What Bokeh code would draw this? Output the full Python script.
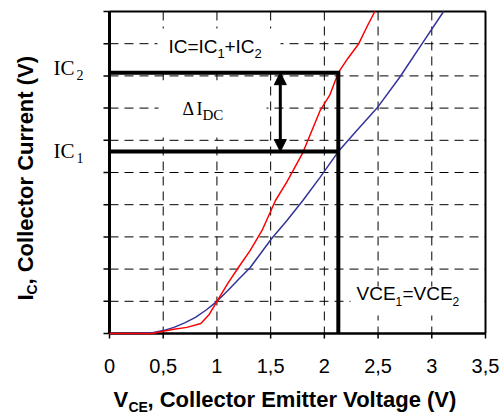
import math
from bokeh.plotting import figure
from bokeh.models import Range1d, Label, Arrow, NormalHead
from bokeh.core.properties import value
from bokeh.embed import file_html
from bokeh.resources import INLINE

# ---- data ----
vce_red = [0.0, 0.2, 0.4, 0.5, 0.6, 0.72, 0.85, 0.93, 1.0, 1.1, 1.2, 1.31, 1.42, 1.545, 1.65, 1.8, 1.96, 2.05, 2.13, 2.22, 2.32, 2.4, 2.47]
ic_red = [0.0, 0.0, 0.0, 0.07, 0.13, 0.19, 0.31, 0.6, 1.0, 1.55, 2.05, 2.58, 3.2, 4.13, 4.7, 5.62, 6.92, 7.4, 8.1, 8.55, 9.0, 9.55, 10.0]

vce_blue = [0.0, 0.2, 0.4, 0.5, 0.6, 0.7, 0.8, 0.9, 1.0, 1.1, 1.2, 1.31, 1.51, 1.65, 1.8, 1.96, 2.13, 2.3, 2.49, 2.7, 2.91, 3.11]
ic_blue = [0.0, 0.0, 0.02, 0.09, 0.19, 0.33, 0.5, 0.73, 1.0, 1.33, 1.68, 2.05, 2.95, 3.5, 4.13, 4.85, 5.65, 6.3, 7.0, 7.95, 9.0, 10.0]

x_ticks = [0, 0.5, 1, 1.5, 2, 2.5, 3, 3.5]
x_tick_labels = ["0", "0,5", "1", "1,5", "2", "2,5", "3", "3,5"]
y_ticks = [0, 1, 2, 3, 4, 5, 6, 7, 8, 9, 10]

x_min, x_max = 0.0, 3.5
y_min, y_max = 0.0, 10.0

ic1_level = 5.65
ic2_level = 8.1
vce_point = 2.13
delta_x = 1.59

# ---- geometry of the plot box on the canvas (pixels) ----
W, H = 504, 415
BOX_L, BOX_R, BOX_T, BOX_B = 109, 485, 11, 333
xpp = (x_max - x_min) / (BOX_R - BOX_L)
ypp = (y_max - y_min) / (BOX_B - BOX_T)

x_range = Range1d(x_min - BOX_L * xpp, x_max + (W - BOX_R) * xpp)
y_range = Range1d(y_min - (H - BOX_B) * ypp, y_max + BOX_T * ypp)

p = figure(width=W, height=H, x_range=x_range, y_range=y_range,
           output_backend="svg", toolbar_location=None,
           x_axis_location=None, y_axis_location=None, min_border=0)
p.outline_line_color = None
p.background_fill_color = "white"
p.border_fill_color = "white"
for g in p.grid:
    g.visible = False

TEXT_SHIFT = 0.36  # empirical baseline correction, in em


def dx(X):
    return x_range.start + X * xpp


def dy(Y):
    return y_range.end - Y * ypp


def px_w(n):
    return n * xpp


def px_h(n):
    return n * ypp


# ---- grid (dashed) ----
p.segment(x0=x_ticks, y0=[y_max] * len(x_ticks), x1=x_ticks, y1=[y_min] * len(x_ticks),
          line_color="black", line_width=1, line_dash="9 6")
p.segment(x0=[x_min] * len(y_ticks), y0=y_ticks, x1=[x_max] * len(y_ticks), y1=y_ticks,
          line_color="black", line_width=1, line_dash="9 6")

# white boxes behind the in-plot texts
p.quad(left=[dx(157), dx(158), dx(350)], right=[dx(280), dx(266), dx(480)],
       top=[dy(28), dy(80), dy(286)], bottom=[dy(70), dy(137), dy(315)],
       fill_color="white", line_color=None)

# ---- plot box and axes ----
p.line([x_min, x_max, x_max], [y_max, y_max, y_min], line_color="black", line_width=2)
p.line([x_min, x_min], [y_min, y_max], line_color="black", line_width=3)
p.line([x_min, x_max], [y_min, y_min], line_color="black", line_width=2.5)

# tick marks
p.segment(x0=x_ticks, y0=[y_min] * len(x_ticks), x1=x_ticks, y1=[y_min - px_h(5)] * len(x_ticks),
          line_color="black", line_width=1.5)
p.segment(x0=[x_min] * len(y_ticks), y0=y_ticks, x1=[x_min - px_w(6)] * len(y_ticks), y1=y_ticks,
          line_color="black", line_width=1.5)

# tick labels
p.text(x=x_ticks, y=[dy(373 - TEXT_SHIFT * 20)] * len(x_ticks), text=x_tick_labels,
       text_font=value("Liberation Sans"), text_font_size="20px", text_color="black",
       text_align="center", text_baseline="alphabetic")

# ---- curves ----
p.line(vce_blue, ic_blue, line_color="#333399", line_width=1.5)
p.line(vce_red, ic_red, line_color="#ff0000", line_width=1.5)

# thick construction lines
p.line([x_min, vce_point, vce_point], [ic2_level, ic2_level, y_min], line_color="black",
       line_width=4, line_join="miter")
p.line([x_min, vce_point], [ic1_level, ic1_level], line_color="black", line_width=4)

p.add_layout(Arrow(x_start=delta_x, y_start=ic1_level, x_end=delta_x, y_end=ic2_level,
                   line_width=3, line_color="black",
                   start=NormalHead(size=12, fill_color="black", line_color="black"),
                   end=NormalHead(size=12, fill_color="black", line_color="black")))


def lab(X, Y, text, size, font="Liberation Sans", style="normal", angle=0.0):
    s = TEXT_SHIFT * size
    if angle == 0.0:
        Y = Y - s
    else:
        X = X - s
    p.add_layout(Label(x=dx(X), y=dy(Y), text=text, text_font=font, text_font_size=f"{size}px",
                       text_font_style=style, text_color="black", text_align="left",
                       text_baseline="alphabetic", angle=angle))


# IC2 / IC1 at left
lab(53, 75, "IC", 21, font="Liberation Serif")
lab(76, 80, "2", 14, font="Liberation Serif")
lab(53, 158, "IC", 21, font="Liberation Serif")
lab(76, 163, "1", 14, font="Liberation Serif")

# IC=IC1+IC2
lab(168, 53, "IC=IC", 19)
lab(217, 58, "1", 13)
lab(224, 53, "+IC", 19)
lab(254, 58, "2", 13)

# Delta I_DC
lab(182, 115, "\u0394", 18, font="Liberation Serif")
lab(196, 115, "I", 18, font="Liberation Serif")
lab(202, 120, "DC", 15, font="Liberation Serif")

# VCE1=VCE2
lab(356, 300, "VCE", 19)
lab(395, 305, "1", 12)
lab(402, 300, "=VCE", 19)
lab(452, 305, "2", 12)

# x axis title
lab(113, 407, "V", 22, style="bold")
lab(128, 412, "CE", 14, style="bold")
lab(147, 407, ", Collector Emitter Voltage (V)", 22, style="bold")

# y axis title (rotated)
lab(33, 300, "I", 22, style="bold", angle=math.pi / 2)
lab(37, 294, "C", 14, style="bold", angle=math.pi / 2)
lab(33, 284, ", Collector Current (V)", 22, style="bold", angle=math.pi / 2)

open("out.html", "w").write(file_html(p, INLINE))
